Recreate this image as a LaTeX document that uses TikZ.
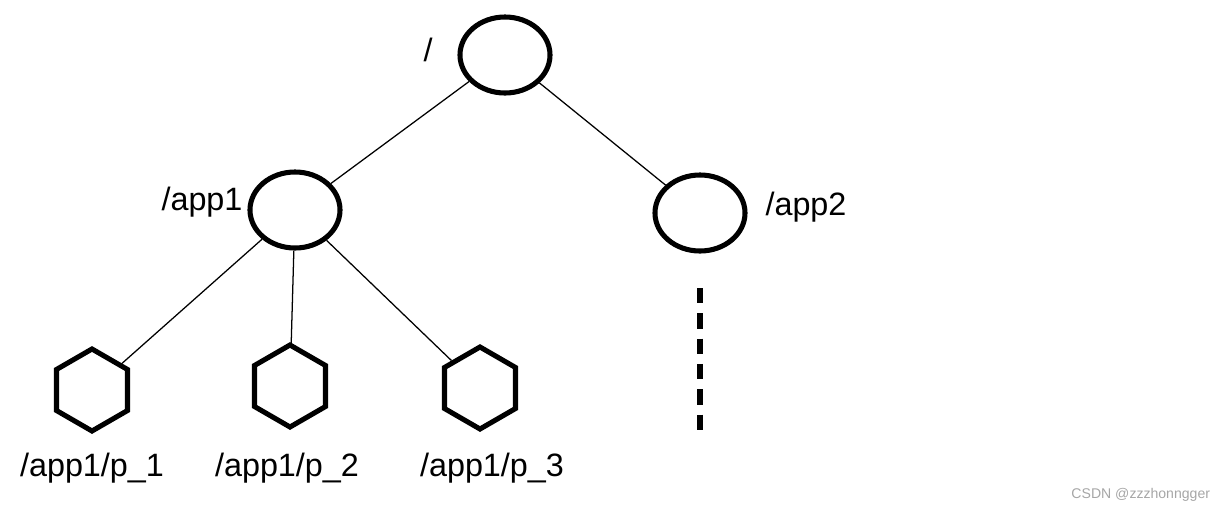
\documentclass[tikz,border=0pt]{standalone}
\usepackage{fontspec}
\setmainfont{Liberation Sans}
\usetikzlibrary{shapes.geometric}

\tikzset{
  znode/.style={draw, line width=3.6pt, ellipse, minimum width=2.25cm, minimum height=1.9cm, inner sep=0pt},
  leaf/.style={draw, line width=3.6pt, regular polygon, regular polygon sides=6, shape border rotate=30, minimum size=2.05cm, inner sep=0pt},
  lbl/.style={font=\fontsize{23}{27}\selectfont},
  edge/.style={line width=0.9pt}
}

\begin{document}
\begin{tikzpicture}[x=0.025cm, y=-0.025cm]
  \useasboundingbox (0,0) rectangle (1232,520);
  % znodes
  \node[znode] (root) at (505,55) {};
  \node[znode] (app1) at (295,210) {};
  \node[znode] (app2) at (700,213) {};
  % leaves
  \node[leaf] (p1) at (92,390) {};
  \node[leaf] (p2) at (290,386) {};
  \node[leaf] (p3) at (480,388) {};
  % labels
  \node[lbl] at (428,50) {/};
  \node[lbl] at (202,202) {/app1};
  \node[lbl] at (806,207) {/app2};
  \node[lbl] at (92,468) {/app1/p\_1};
  \node[lbl] at (287,468) {/app1/p\_2};
  \node[lbl] at (492,468) {/app1/p\_3};
  % edges
  \draw[edge] (root) -- (app1);
  \draw[edge] (root) -- (app2);
  \draw[edge] (app1) -- (p1);
  \draw[edge] (app1) -- (p2);
  \draw[edge] (app1) -- (p3);
  % more children
  \coordinate (dtop) at (700,288);
  \coordinate (dbot) at (700,437);
  \draw[line width=4pt, dash pattern=on 11pt off 7pt] (dtop) -- (dbot);
  % watermark
  \node[text=gray!70, font=\fontsize{10}{12}\selectfont, anchor=east] at (1215,495) {CSDN @zzzhonngger};
\end{tikzpicture}
\end{document}
